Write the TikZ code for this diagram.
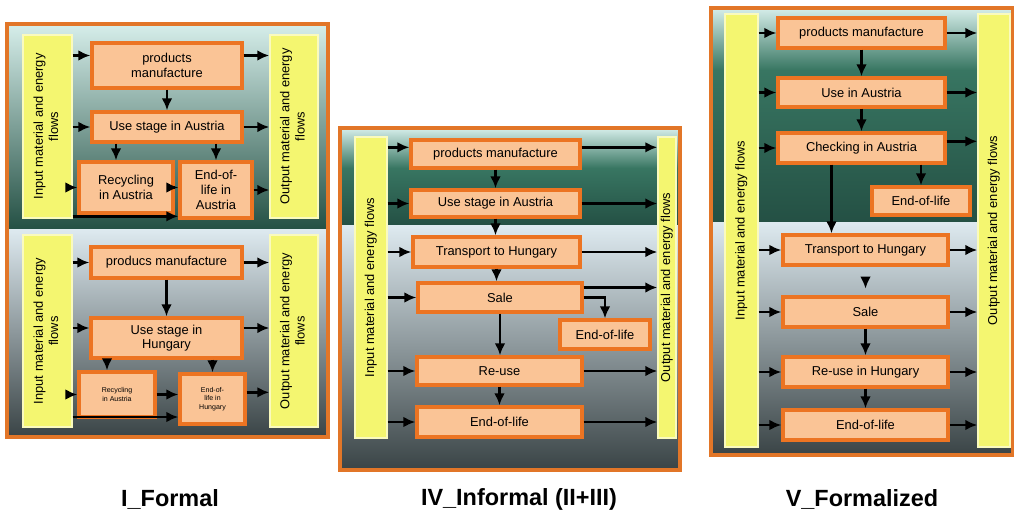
\documentclass[tikz,border=0pt]{standalone}
\usepackage{fontspec}
\setmainfont{Liberation Sans}
\usetikzlibrary{arrows.meta,calc}

\definecolor{frameorange}{RGB}{226,118,40}
\definecolor{boxfill}{RGB}{250,196,150}
\definecolor{boxline}{RGB}{236,116,34}
\definecolor{barfill}{RGB}{244,246,112}
\definecolor{barline}{RGB}{250,250,190}
\definecolor{topsky}{RGB}{214,238,234}
\definecolor{topgreen}{RGB}{56,118,98}
\definecolor{topdark}{RGB}{36,80,68}
\definecolor{lowsky}{RGB}{222,234,240}
\definecolor{lowmid}{RGB}{120,140,150}
\definecolor{lowdark}{RGB}{58,68,70}

\newcommand{\flowtext}[1]{\rotatebox{90}{\begin{tabular}{@{}c@{}}#1\end{tabular}}}

\tikzset{
    stage/.style={draw=boxline, line width=2.8pt, fill=boxfill, align=center, inner sep=1pt, font=\fontsize{11}{12.5}\selectfont},
    flowbar/.style={draw=barline, line width=1.2pt, fill=barfill, inner sep=0pt, font=\fontsize{11}{13}\selectfont},
    flow/.style={-{Latex[length=3.6mm,width=3.2mm]}, line width=2.4pt},
    panel/.style={draw=frameorange, line width=3pt},
    caption/.style={font=\fontsize{20}{24}\selectfont\bfseries},
}

\begin{document}
\begin{tikzpicture}[x=0.3mm, y=-0.3mm]
        \useasboundingbox (0,0) rectangle (1014,517);

        \shade[top color=topsky, middle color=topgreen, bottom color=topdark] (7,24) rectangle (328,229);
        \shade[top color=lowsky, middle color=lowmid, bottom color=lowdark] (7,229) rectangle (328,437);
        \draw[panel] (7,24) rectangle (328,437);

        \shade[top color=topsky, bottom color=topgreen] (340,128) rectangle (680,168);
        \shade[top color=topgreen, bottom color=topdark] (340,168) rectangle (680,225);
        \shade[top color=lowsky, middle color=lowmid, bottom color=lowdark] (340,225) rectangle (680,470);
        \draw[panel] (340,128) rectangle (680,470);

        \shade[top color=topsky, bottom color=topgreen] (711,8) rectangle (1013,70);
        \shade[top color=topgreen, bottom color=topdark] (711,70) rectangle (1013,222);
        \shade[top color=lowsky, middle color=lowmid, bottom color=lowdark] (711,222) rectangle (1013,455);
        \draw[panel] (711,8) rectangle (1013,455);

        \node[flowbar, minimum width=14.7mm, minimum height=54.9mm] (inIa) at (47.5,126.5) {\flowtext{Input material and energy\\flows}};
        \node[flowbar, minimum width=14.4mm, minimum height=54.9mm] (outIa) at (294,126.5) {\flowtext{Output material and energy\\flows}};
        \node[stage, minimum width=45mm, minimum height=13.5mm] (pmIa) at (167,65.5) {products\\manufacture};
        \node[stage, minimum width=45mm, minimum height=9mm] (useIa) at (167,127) {Use stage in Austria};
        \node[stage, minimum width=28.2mm, minimum height=15.3mm] (recIa) at (126,187.5) {Recycling\\in Austria};
        \node[stage, minimum width=21.6mm, minimum height=16.8mm] (eolIa) at (216,190) {End-of-\\life in\\Austria};

        \node[flowbar, minimum width=14.7mm, minimum height=57.6mm] (inIb) at (47.5,331) {\flowtext{Input material and energy\\flows}};
        \node[flowbar, minimum width=14.4mm, minimum height=57.6mm] (outIb) at (294,331) {\flowtext{Output material and energy\\flows}};
        \node[stage, minimum width=45.3mm, minimum height=9.3mm] (pmIb) at (166.5,262.5) {producs manufacture};
        \node[stage, minimum width=45.3mm, minimum height=12mm] (useIb) at (166.5,338) {Use stage in\\Hungary};
        \node[stage, minimum width=22.8mm, minimum height=13.5mm, font=\fontsize{6}{7}\selectfont] (recIb) at (117,394.5) {Recycling\\in Austria};
        \node[stage, minimum width=19.5mm, minimum height=15mm, font=\fontsize{6}{7}\selectfont] (eolIb) at (212.5,399) {End-of-\\life in\\Hungary};

        \node[flowbar, minimum width=9.6mm, minimum height=90.3mm] (inIV) at (371,287.5) {\flowtext{Input material and energy flows}};
        \node[flowbar, minimum width=5.4mm, minimum height=90.3mm] (outIV) at (667,287.5) {\flowtext{Output material and energy flows}};
        \node[stage, minimum width=50.7mm, minimum height=8.4mm] (pmIV) at (495.5,154) {products manufacture};
        \node[stage, minimum width=50.7mm, minimum height=8.1mm] (useIV) at (495.5,203.5) {Use stage in Austria};
        \node[stage, minimum width=50.1mm, minimum height=9mm] (trIV) at (496.5,252) {Transport to Hungary};
        \node[stage, minimum width=49.2mm, minimum height=8.7mm] (saleIV) at (500,297.5) {Sale};
        \node[stage, minimum width=27mm, minimum height=8.7mm] (eolIVa) at (605,334.5) {End-of-life};
        \node[stage, minimum width=49.5mm, minimum height=8.4mm] (reIV) at (499.5,371) {Re-use};
        \node[stage, minimum width=49.5mm, minimum height=9mm] (eolIVb) at (499.5,422) {End-of-life};

        \node[flowbar, minimum width=9.9mm, minimum height=129.9mm] (inV) at (741.5,230.5) {\flowtext{Input material and energy flows}};
        \node[flowbar, minimum width=9.6mm, minimum height=129.9mm] (outV) at (994,230.5) {\flowtext{Output material and energy flows}};
        \node[stage, minimum width=50.1mm, minimum height=9mm] (pmV) at (861.5,33) {products manufacture};
        \node[stage, minimum width=50.1mm, minimum height=8.7mm] (useV) at (861.5,92.5) {Use in Austria};
        \node[stage, minimum width=50.1mm, minimum height=9mm] (chV) at (861.5,148) {Checking in Austria};
        \node[stage, minimum width=29.4mm, minimum height=8.4mm] (eolVa) at (921,201) {End-of-life};
        \node[stage, minimum width=49.5mm, minimum height=9mm] (trV) at (865.5,250) {Transport to Hungary};
        \node[stage, minimum width=49.5mm, minimum height=9mm] (saleV) at (865.5,312) {Sale};
        \node[stage, minimum width=49.5mm, minimum height=9mm] (reV) at (865.5,372) {Re-use in Hungary};
        \node[stage, minimum width=49.5mm, minimum height=9mm] (eolVb) at (865.5,425) {End-of-life};

        \draw[flow] ([yshift=3mm]inIa.east |- pmIa.west) -- ([yshift=3mm]pmIa.west);
        \draw[flow] ([yshift=3mm]pmIa.east) -- ([yshift=3mm]outIa.west |- pmIa.east);
        \draw[flow] (inIa.east |- useIa.west) -- (useIa.west);
        \draw[flow] (useIa.east) -- (outIa.west |- useIa.east);
        \draw[flow] (inIa.east |- recIa.west) -- (recIa.west);
        \draw[flow] (recIa.east) -- (eolIa.west |- recIa.east);
        \draw[flow] (eolIa.east) -- (outIa.west |- eolIa.east);
        \draw[flow] ([yshift=1mm]inIa.east |- eolIa.south) -- ([yshift=1mm]eolIa.south west);
        \draw[flow] (pmIa) -- (useIa);
        \draw[flow] ([xshift=-3mm]recIa.north |- useIa.south) -- ([xshift=-3mm]recIa.north);
        \draw[flow] (eolIa.north |- useIa.south) -- (eolIa.north);

        \draw[flow] (inIb.east |- pmIb.west) -- (pmIb.west);
        \draw[flow] (pmIb.east) -- (outIb.west |- pmIb.east);
        \draw[flow] ([yshift=3mm]inIb.east |- useIb.west) -- ([yshift=3mm]useIb.west);
        \draw[flow] ([yshift=3mm]useIb.east) -- ([yshift=3mm]outIb.west |- useIb.east);
        \draw[flow] (inIb.east |- recIb.west) -- (recIb.west);
        \draw[flow] (recIb.east) -- (eolIb.west |- recIb.east);
        \draw[flow] ([yshift=2mm]eolIb.east) -- ([yshift=2mm]outIb.west |- eolIb.east);
        \draw[flow] ([yshift=-5.4mm]inIb.east |- eolIb.west) -- ([yshift=-5.4mm]eolIb.west);
        \draw[flow] (pmIb) -- (useIb);
        \draw[flow] ([xshift=-3mm]recIb.north |- useIb.south) -- ([xshift=-3mm]recIb.north);
        \draw[flow] (eolIb.north |- useIb.south) -- (eolIb.north);

        \draw[flow] ([yshift=2mm]inIV.east |- pmIV.west) -- ([yshift=2mm]pmIV.west);
        \draw[flow] ([yshift=2mm]pmIV.east) -- ([yshift=2mm]outIV.west |- pmIV.east);
        \draw[flow] (inIV.east |- useIV.west) -- (useIV.west);
        \draw[flow] (useIV.east) -- (outIV.west |- useIV.east);
        \draw[flow] (inIV.east |- trIV.west) -- (trIV.west);
        \draw[flow] (trIV.east) -- (outIV.west |- trIV.east);
        \draw[flow] (inIV.east |- saleIV.west) -- (saleIV.west);
        \draw[flow] ([yshift=3mm]saleIV.east) -- ([yshift=3mm]outIV.west |- saleIV.east);
        \draw[flow] (saleIV.east) -| (eolIVa.north);
        \draw[flow] (inIV.east |- reIV.west) -- (reIV.west);
        \draw[flow] (reIV.east) -- (outIV.west |- reIV.east);
        \draw[flow] (inIV.east |- eolIVb.west) -- (eolIVb.west);
        \draw[flow] (eolIVb.east) -- (outIV.west |- eolIVb.east);
        \draw[flow] (pmIV) -- (pmIV |- useIV.north);
        \draw[flow] (useIV) -- (useIV |- trIV.north);
        \draw[flow] (trIV) -- (trIV |- saleIV.north);
        \draw[flow] (saleIV) -- (saleIV |- reIV.north);
        \draw[flow] (reIV) -- (eolIVb);

        \draw[flow] (inV.east |- pmV.west) -- (pmV.west);
        \draw[flow] (pmV.east) -- (outV.west |- pmV.east);
        \draw[flow] (inV.east |- useV.west) -- (useV.west);
        \draw[flow] (useV.east) -- (outV.west |- useV.east);
        \draw[flow] (inV.east |- chV.west) -- (chV.west);
        \draw[flow] ([yshift=2mm]chV.east) -- ([yshift=2mm]outV.west |- chV.east);
        \draw[flow] (eolVa.north |- chV.south) -- (eolVa.north);
        \draw[flow] ([xshift=-9mm]chV.south) -- ([xshift=-9mm]chV.south |- trV.north);
        \draw[flow] (inV.east |- trV.west) -- (trV.west);
        \draw[flow] (trV.east) -- (outV.west |- trV.east);
        \draw[flow, shorten >=2mm] ($(trV.south)!0.5!(saleV.north)$) -- (saleV.north);
        \draw[flow] (inV.east |- saleV.west) -- (saleV.west);
        \draw[flow] (saleV.east) -- (outV.west |- saleV.east);
        \draw[flow] (inV.east |- reV.west) -- (reV.west);
        \draw[flow] (reV.east) -- (outV.west |- reV.east);
        \draw[flow] (inV.east |- eolVb.west) -- (eolVb.west);
        \draw[flow] (eolVb.east) -- (outV.west |- eolVb.east);
        \draw[flow] (pmV) -- (useV);
        \draw[flow] (useV) -- (chV);
        \draw[flow] (saleV) -- (reV);
        \draw[flow] (reV) -- (eolVb);

        \node[caption] (capI) at (170,499) {I\_Formal};
        \node[caption] (capIV) at (519,499) {IV\_Informal (II+III)};
        \node[caption] (capV) at (862,499) {V\_Formalized};
    \end{tikzpicture}
\end{document}
